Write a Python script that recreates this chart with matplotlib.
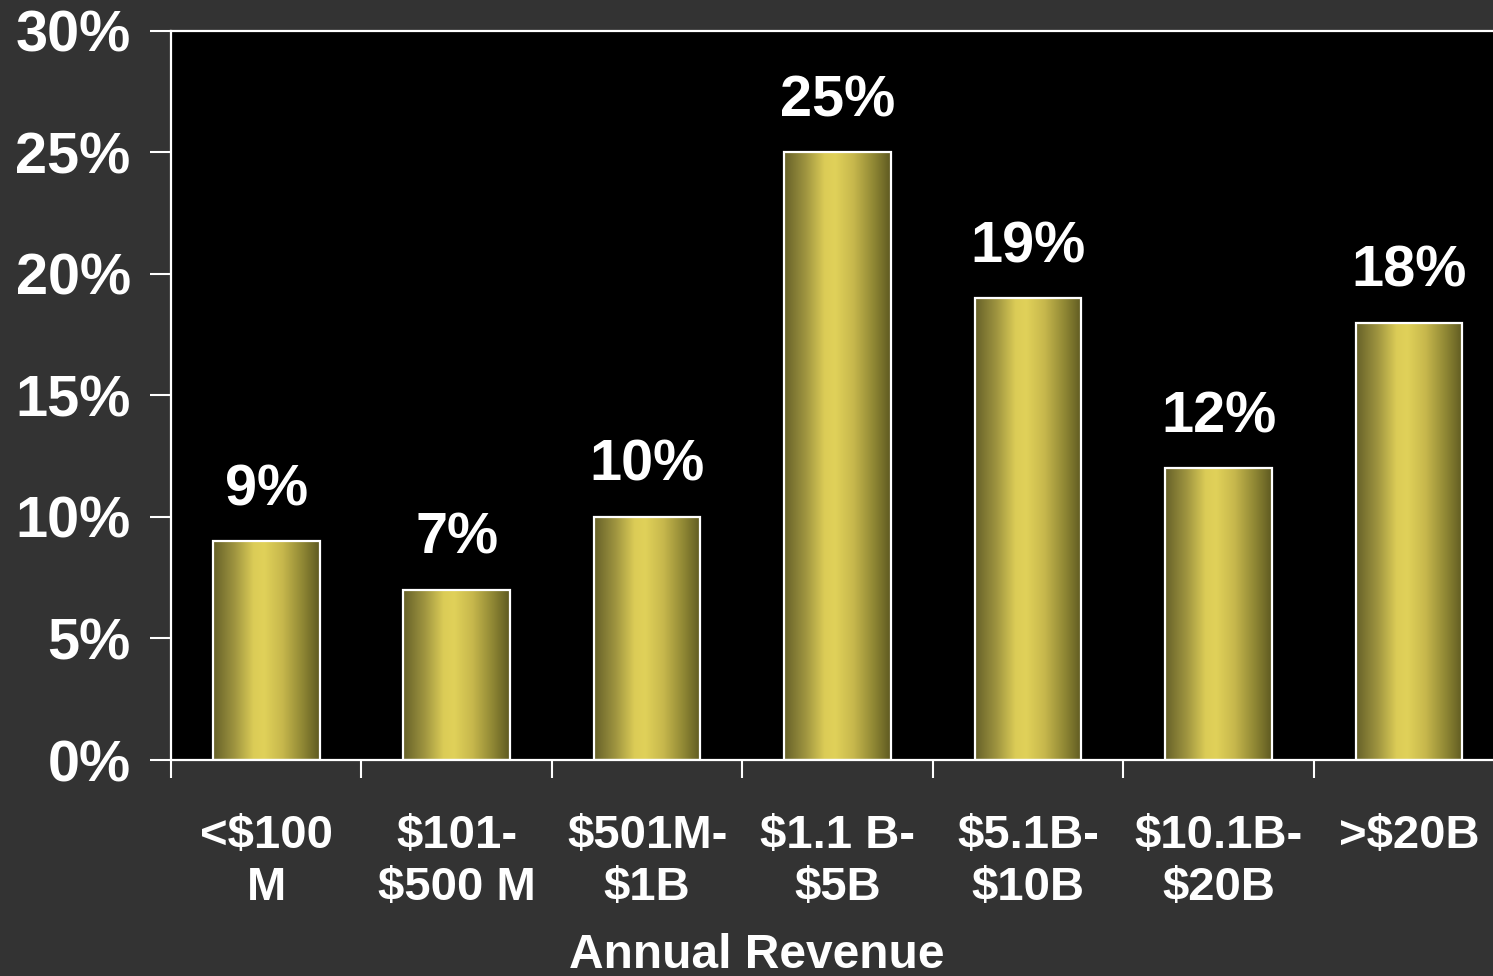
import numpy as np
import matplotlib
matplotlib.use("Agg")
import matplotlib.pyplot as plt
from matplotlib.colors import LinearSegmentedColormap

categories = ["<$100\nM", "$101-\n$500 M", "$501M-\n$1B", "$1.1 B-\n$5B",
              "$5.1B-\n$10B", "$10.1B-\n$20B", ">$20B"]
values = [9, 7, 10, 25, 19, 12, 18]
yticks = [0, 5, 10, 15, 20, 25, 30]
ytick_labels = ["0%", "5%", "10%", "15%", "20%", "25%", "30%"]
xlabel = "Annual Revenue"

BG = "#333333"
plt.rcParams["font.family"] = ["Liberation Sans", "DejaVu Sans"]
plt.rcParams["font.weight"] = "bold"

# horizontal gold gradient used to fill each bar
gold = LinearSegmentedColormap.from_list("gold", [
    (0.00, (0.40, 0.38, 0.16)),
    (0.20, (0.62, 0.58, 0.25)),
    (0.38, (0.86, 0.80, 0.34)),
    (0.48, (0.88, 0.82, 0.35)),
    (0.65, (0.78, 0.72, 0.30)),
    (0.85, (0.55, 0.52, 0.20)),
    (1.00, (0.37, 0.35, 0.13)),
])

fig = plt.figure(figsize=(14.93, 9.76), dpi=100, facecolor=BG)
ax = fig.add_axes([0.1145, 0.2213, 0.893, 0.747])
ax.set_facecolor("black")

x = np.arange(len(values))
width = 0.56
bars = ax.bar(x, values, width=width, color="none", edgecolor="white",
              linewidth=1.6, zorder=3)

grad = np.linspace(0, 1, 256).reshape(1, -1)
for b in bars:
    x0, y0 = b.get_x(), b.get_y()
    w, h = b.get_width(), b.get_height()
    im = ax.imshow(grad, cmap=gold, extent=[x0, x0 + w, y0, y0 + h],
                   aspect="auto", zorder=2, interpolation="bilinear")
    im.set_clip_path(b)

for xi, v in zip(x, values):
    ax.annotate(f"{v}%", (xi, v), xytext=(0, 26), textcoords="offset points",
                ha="center", va="baseline", color="white", fontsize=41.5,
                fontweight="bold")

ax.set_xlim(-0.5, len(values) - 0.5)
ax.set_ylim(0, 30)
ax.set_yticks(yticks)
ax.set_yticklabels(ytick_labels)
ax.set_xticks(x)
ax.set_xticklabels(categories, linespacing=1.22)
ax.set_xticks(np.arange(len(values) + 1) - 0.5, minor=True)

ax.tick_params(axis="y", direction="out", length=15, width=1.5, color="white",
               labelcolor="white", labelsize=41.5, pad=14)
ax.tick_params(axis="x", which="major", length=0, labelcolor="white",
               labelsize=34, pad=39)
ax.tick_params(axis="x", which="minor", direction="out", length=13, width=1.5,
               color="white")
for lab in ax.get_xticklabels() + ax.get_yticklabels():
    lab.set_fontweight("bold")

for side in ["left", "bottom", "top", "right"]:
    ax.spines[side].set_color("white")
    ax.spines[side].set_linewidth(1.6)

fig.text(757 / 1493, 8 / 976, xlabel, ha="center", va="baseline",
         color="white", fontsize=34.5, fontweight="bold")

fig.savefig("out.png", dpi=100, facecolor=BG)
